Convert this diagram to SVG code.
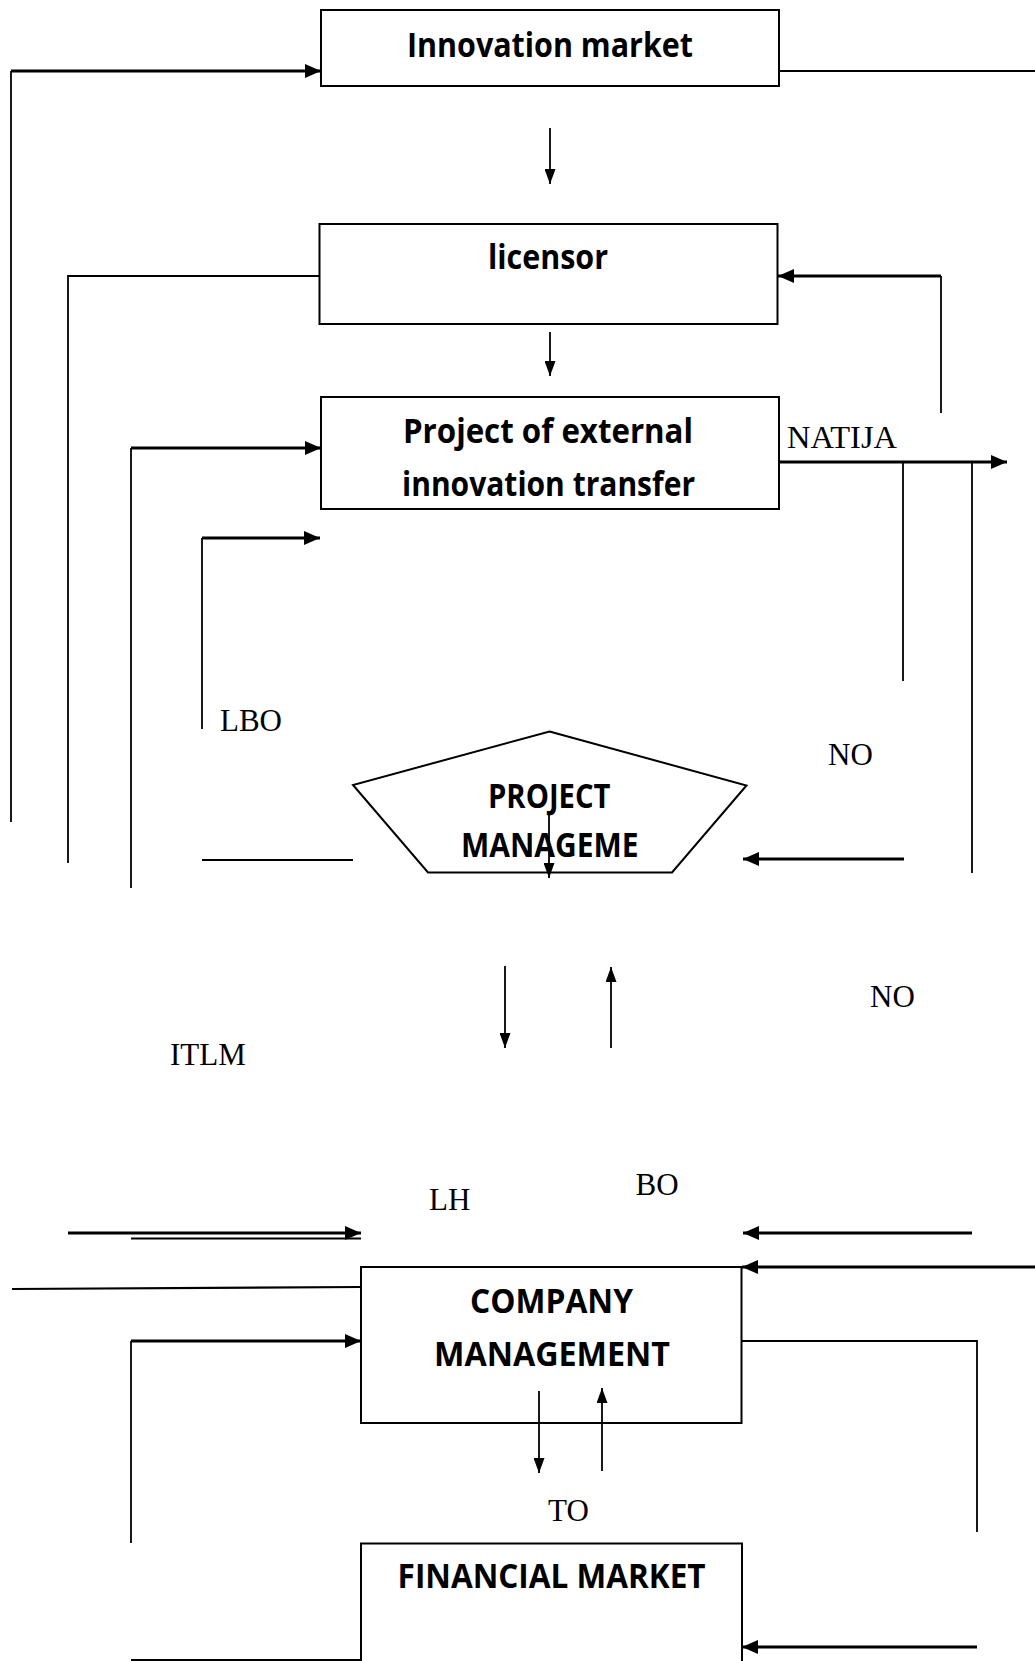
<svg xmlns="http://www.w3.org/2000/svg" width="1035" height="1661" viewBox="0 0 1035 1661">
<style>
.box{fill:#fff;stroke:#000;stroke-width:2}
.b{font-family:"Open Sans","Noto Sans","Liberation Sans",sans-serif;font-weight:bold;font-size:34px;fill:#000}
.s{font-family:"Liberation Serif","Times New Roman",serif;font-size:31px;fill:#000}
.c path{fill:none;stroke:#000;stroke-linecap:butt}
.th{stroke-width:1.8}
.tk{stroke-width:2.8}
.md{stroke-width:2.2}
</style>
<defs>
<marker id="ah" viewBox="0 0 16 14" refX="16" refY="7" markerWidth="16" markerHeight="14" markerUnits="userSpaceOnUse" orient="auto"><path d="M0,0 L16,7 L0,14 z" fill="#000"/></marker>
<marker id="as" viewBox="0 0 15 11" refX="15" refY="5.5" markerWidth="15" markerHeight="11" markerUnits="userSpaceOnUse" orient="auto"><path d="M0,0 L15,5.5 L0,11 z" fill="#000"/></marker>
</defs>
<rect width="1035" height="1661" fill="#fff"/>
<g id="nodes">
<g id="innovation-market"><rect class="box" x="321" y="10" width="458" height="76"/><text class="b" x="407" y="57" textLength="286" lengthAdjust="spacingAndGlyphs">Innovation market</text></g>
<g id="licensor"><rect class="box" x="319.5" y="224" width="458" height="100"/><text class="b" x="488" y="269" textLength="120" lengthAdjust="spacingAndGlyphs">licensor</text></g>
<g id="project-transfer"><rect class="box" x="321" y="397" width="458" height="112"/><text class="b" x="403" y="443" textLength="290" lengthAdjust="spacingAndGlyphs">Project of external</text><text class="b" x="402" y="496" textLength="293" lengthAdjust="spacingAndGlyphs">innovation transfer</text></g>
<g id="project-management"><polygon class="box" points="549.5,731.5 746.5,785.5 672,872.5 428,872.5 353,785"/><text class="b" x="488" y="808" font-size="31" textLength="122.5" lengthAdjust="spacingAndGlyphs">PROJECT</text><text class="b" x="461" y="857" font-size="31" textLength="177.5" lengthAdjust="spacingAndGlyphs">MANAGEME</text></g>
<g id="company-management"><rect class="box" x="361" y="1267" width="380.5" height="156"/><text class="b" x="470" y="1313" textLength="163" lengthAdjust="spacingAndGlyphs">COMPANY</text><text class="b" x="434" y="1366" textLength="236" lengthAdjust="spacingAndGlyphs">MANAGEMENT</text></g>
<g id="financial-market"><rect class="box" x="361" y="1543.5" width="381" height="130"/><text class="b" x="397.6" y="1588" textLength="308" lengthAdjust="spacingAndGlyphs">FINANCIAL MARKET</text></g>
</g>
<g id="labels">
<text class="s" x="787" y="448" textLength="110" lengthAdjust="spacingAndGlyphs">NATIJA</text>
<text class="s" x="220" y="731">LBO</text>
<text class="s" x="828" y="765">NO</text>
<text class="s" x="870" y="1007">NO</text>
<text class="s" x="170" y="1065">ITLM</text>
<text class="s" x="429" y="1210">LH</text>
<text class="s" x="635.6" y="1195">BO</text>
<text class="s" x="548" y="1521">TO</text>
</g>
<g id="connectors" class="c">
<path class="th" d="M11,822 V71"/>
<path class="tk" d="M11,71 H321" marker-end="url(#ah)"/>
<path class="th" d="M779,71 H1035"/>
<path class="th" d="M550,128 V184" marker-end="url(#as)"/>
<path class="th" d="M319.5,276 H68 V863"/>
<path class="th" d="M941,413 V276"/>
<path class="tk" d="M941,276 H778" marker-end="url(#ah)"/>
<path class="th" d="M550,332 V376" marker-end="url(#as)"/>
<path class="th" d="M131,888 V448"/>
<path class="tk" d="M131,448 H321" marker-end="url(#ah)"/>
<path class="tk" d="M779,462 H1007" marker-end="url(#ah)"/>
<path class="th" d="M903,462 V681"/>
<path class="th" d="M972,462 V873"/>
<path class="th" d="M202,729 V538"/>
<path class="tk" d="M202,538 H320" marker-end="url(#ah)"/>
<path class="th" d="M549,814 V878" marker-end="url(#as)"/>
<path class="md" d="M202,860 H353"/>
<path class="tk" d="M904,859 H743" marker-end="url(#ah)"/>
<path class="th" d="M505,966 V1048" marker-end="url(#as)"/>
<path class="th" d="M611,1048 V967" marker-end="url(#as)"/>
<path class="tk" d="M68,1233 H361" marker-end="url(#ah)"/>
<path class="md" d="M131,1238.5 H361"/>
<path class="tk" d="M972,1233 H743" marker-end="url(#ah)"/>
<path class="tk" d="M1035,1267 H742" marker-end="url(#ah)"/>
<path class="md" d="M12,1289 L361,1287"/>
<path class="th" d="M131,1543 V1341"/>
<path class="tk" d="M131,1341 H361" marker-end="url(#ah)"/>
<path class="th" d="M741.5,1341 H977 V1532"/>
<path class="th" d="M539,1391 V1473" marker-end="url(#as)"/>
<path class="th" d="M602,1471 V1388" marker-end="url(#as)"/>
<path class="md" d="M131,1660 H361"/>
<path class="tk" d="M977,1647 H742" marker-end="url(#ah)"/>
</g>
</svg>
